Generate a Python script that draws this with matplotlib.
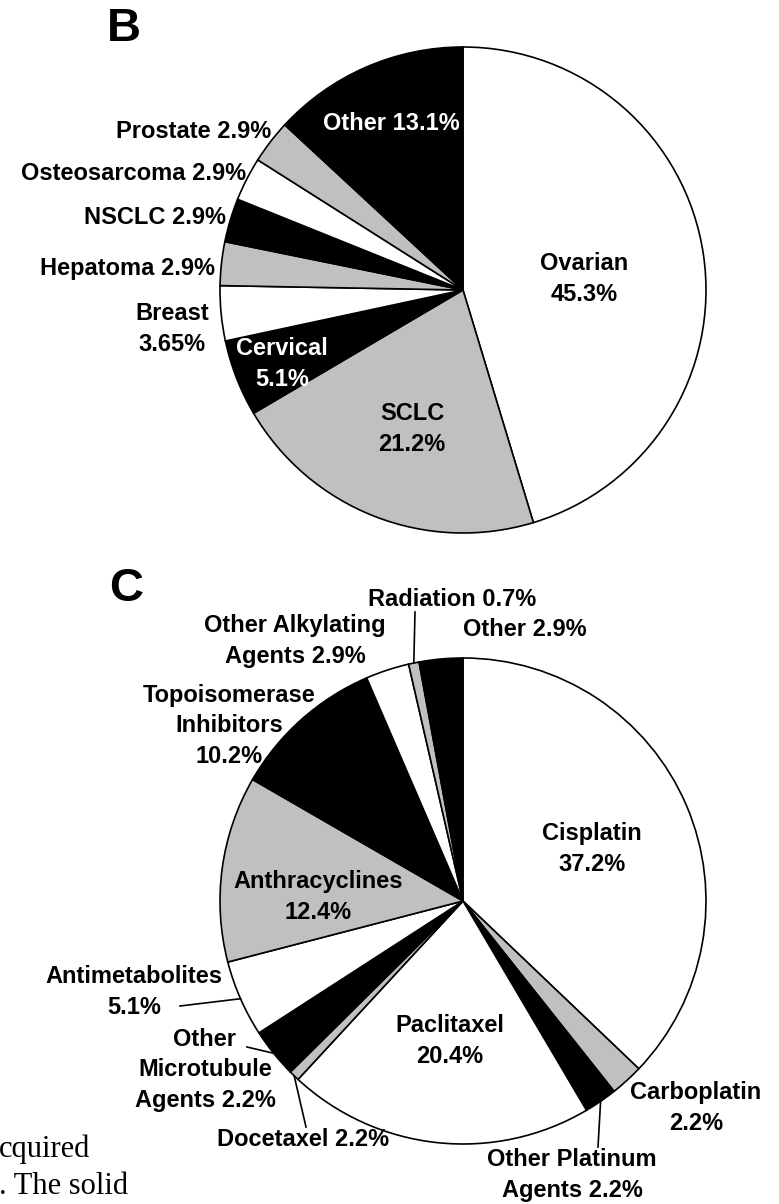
import numpy as np
import matplotlib.pyplot as plt

W, H = 779, 1204

# Panel B - tumour types
b_names = ['Ovarian\n45.3%', 'SCLC\n21.2%', 'Cervical\n5.1%', 'Breast\n3.65%',
           'Hepatoma 2.9%', 'NSCLC 2.9%', 'Osteosarcoma 2.9%', 'Prostate 2.9%',
           'Other 13.1%']
b_values = [45.3, 21.2, 5.1, 3.65, 2.9, 2.9, 2.9, 2.9, 13.1]

# Panel C - treatments (wedge sizes as drawn in the figure)
c_names = ['Cisplatin\n37.2%', 'Carboplatin\n2.2%', 'Other Platinum\nAgents 2.2%',
           'Paclitaxel\n20.4%', 'Docetaxel 2.2%', 'Other\nMicrotubule\nAgents 2.2%',
           'Antimetabolites\n5.1%', 'Anthracyclines\n12.4%',
           'Topoisomerase\nInhibitors\n10.2%', 'Other Alkylating\nAgents 2.9%',
           'Radiation 0.7%', 'Other 2.9%']
c_values = [37.2, 2.2, 2.2, 20.4, 0.7, 3.3, 5.1, 12.4, 10.2, 2.9, 0.7, 2.9]

GRAY = '#c0c0c0'
cycle = ['white', GRAY, 'black']

# label centres in pixel coords (x from left, y from top)
b_pos = [(584, 279), (412, 429), (282, 364), (172, 329), (128, 269),
         (155, 217), (134, 174), (194, 131), (391, 124)]
b_txtcol = ['black', 'black', 'white', 'black', 'black', 'black', 'black',
            'black', 'white']
c_pos = [(592, 849), (696, 1108), (572, 1175), (450, 1041), (303, 1140),
         (205, 1070), (134, 992), (318, 897), (229, 726), (295, 641),
         (452, 599), (525, 629)]
# leader lines: wedge index -> end point near label
c_leaders = {2: (598, 1147), 4: (306, 1127), 5: (247, 1047), 6: (180, 1006),
             10: (415, 612)}

R = 243
centre_b = (463, 290)
centre_c = (463, 901)

fig = plt.figure(figsize=(W / 100, H / 100), dpi=100)
ax = fig.add_axes([0, 0, 1, 1])


def pie(values, centre):
    cx, cy = centre[0], H - centre[1]
    cols = [cycle[i % 3] for i in range(len(values))]
    wedges, _ = ax.pie(values, colors=cols, startangle=90, counterclock=False,
                       center=(cx, cy), radius=R, normalize=True,
                       wedgeprops=dict(edgecolor='black', linewidth=1.2))
    return wedges


def labels(names, pos, colours=None):
    for i, (s, (x, y)) in enumerate(zip(names, pos)):
        col = colours[i] if colours else 'black'
        ax.text(x, H - y, s, ha='center', va='center', multialignment='center',
                fontsize=17, fontweight='bold', family='Liberation Sans',
                color=col, linespacing=1.4)


pie(b_values, centre_b)
wc = pie(c_values, centre_c)
labels(b_names, b_pos, b_txtcol)
labels(c_names, c_pos)

for i, (lx, ly) in c_leaders.items():
    w = wc[i]
    a = np.deg2rad((w.theta1 + w.theta2) / 2)
    ex = w.center[0] + R * np.cos(a)
    ey = w.center[1] + R * np.sin(a)
    ax.plot([ex, lx], [ey, H - ly], color='black', lw=1.2)

ax.text(124, H - 29, 'B', ha='center', va='center', fontsize=34,
        fontweight='bold', family='Liberation Sans')
ax.text(126, H - 589, 'C', ha='center', va='center', fontsize=34,
        fontweight='bold', family='Liberation Sans')

# cut-off caption text at bottom left
ax.text(-1, H - 1157, 'cquired', ha='left', va='baseline', fontsize=22,
        family='Liberation Serif')
ax.text(-1, H - 1194, '. The solid', ha='left', va='baseline', fontsize=22,
        family='Liberation Serif')

ax.set_xlim(0, W)
ax.set_ylim(0, H)
ax.set_aspect('auto')
ax.axis('off')

fig.savefig('out.png', dpi=100)
